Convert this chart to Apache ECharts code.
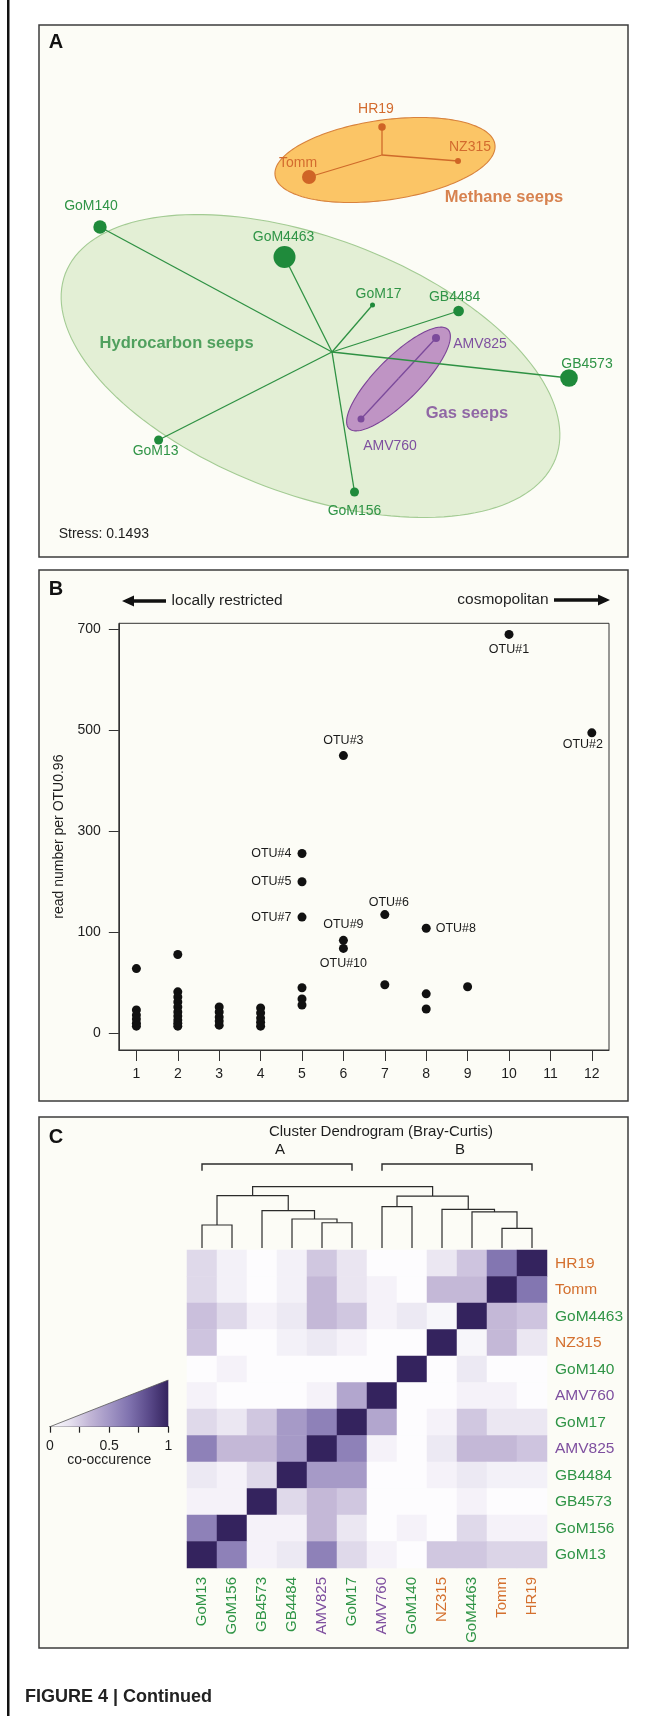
<!DOCTYPE html>
<html>
<head>
<meta charset="utf-8">
<title>Figure 4</title>
<script src="https://cdn.jsdelivr.net/npm/echarts@6.0.0/dist/echarts.min.js"></script>
<style>
html,body{margin:0;padding:0;background:#ffffff;}
#chart{width:659px;height:1716px;}
</style>
</head>
<body>
<div id="chart"></div>
<script>
// ======================= DATA =======================
// ---- Panel A : NMDS ordination of seep sites ----
const siteNames     = ['HR19','NZ315','Tomm','GoM140','GoM4463','GoM17','GB4484','AMV825','GB4573','AMV760','GoM13','GoM156'];
const siteGroup     = ['methane','methane','methane','hydro','hydro','hydro','hydro','gas','hydro','gas','hydro','hydro'];
const nmds1         = [0.25, 0.63, -0.115, -1.16, -0.2375, 0.2025, 0.633, 0.52, 1.185, 0.145, -0.867, 0.1125];
const nmds2         = [1.125, 0.955, 0.875, 0.625, 0.475, 0.235, 0.205, 0.07, -0.13, -0.335, -0.44, -0.7];
const siteAbundance = [56, 36, 196, 180, 484, 25, 115, 64, 310, 49, 81, 81];
const groupNames    = ['hydro','methane','gas'];
const groupTitles   = ['Hydrocarbon seeps','Methane seeps','Gas seeps'];
const groupCentroid1 = [0, 0.25, 0.3325];
const groupCentroid2 = [0, 0.985, -0.1325];
const ellipseCenter1 = [-0.1075, 0.265, 0.3325];
const ellipseCenter2 = [-0.07, 0.96, -0.135];
const ellipseSemiMajor = [1.31, 0.555, 0.35];
const ellipseSemiMinor = [0.642, 0.2, 0.11];
const ellipseAngleDeg  = [-20.6, 8, 45];
const groupTitle1 = [-0.777, 0.86, 0.675];
const groupTitle2 = [0.045, 0.775, -0.305];
const stressValue = '0.1493';

// ---- Panel B : occurrence vs read number ----
const otuNames  = ['OTU#1','OTU#2','OTU#3','OTU#4','OTU#5','OTU#6','OTU#7','OTU#8','OTU#9','OTU#10'];
const otuSites  = [10, 12, 6, 5, 5, 7, 5, 8, 6, 6];
const otuReads  = [690, 495, 450, 256, 200, 135, 130, 108, 92, 84];
const otherSites = [1,1,1,1,1,1, 2,2,2,2,2,2,2,2,2,2, 3,3,3,3,3, 4,4,4,4,4, 5,5,5, 7, 8,8, 9];
const otherReads = [64,23,18,14,10,7, 78,41,36,31,26,21,17,13,10,7, 26,21,16,12,8, 25,20,15,11,7, 45,34,28, 48, 39,24, 46];
const xTicks = [1,2,3,4,5,6,7,8,9,10,11,12];
const yTicks = [0, 100, 300, 500, 700];

// ---- Panel C : co-occurrence heatmap + dendrogram ----
const heatLabels = ['GoM13','GoM156','GB4573','GB4484','AMV825','GoM17','AMV760','GoM140','NZ315','GoM4463','Tomm','HR19'];
const heatGroup  = ['hydro','hydro','hydro','hydro','gas','hydro','gas','hydro','methane','hydro','methane','methane'];
// rows from top (HR19) to bottom (GoM13); columns in heatLabels order
const coOccurrence = [
  [0.20,0.07,0.00,0.07,0.27,0.14,0.00,0.00,0.13,0.28,0.65,1.00], // HR19
  [0.20,0.07,0.00,0.07,0.33,0.14,0.06,0.00,0.33,0.33,1.00,0.65], // Tomm
  [0.30,0.20,0.06,0.12,0.33,0.27,0.06,0.12,0.04,1.00,0.33,0.28], // GoM4463
  [0.28,0.00,0.00,0.07,0.12,0.06,0.00,0.00,1.00,0.04,0.33,0.13], // NZ315
  [0.00,0.06,0.00,0.00,0.00,0.00,0.00,1.00,0.00,0.12,0.00,0.00], // GoM140
  [0.06,0.00,0.00,0.00,0.06,0.42,1.00,0.00,0.00,0.06,0.06,0.00], // AMV760
  [0.20,0.13,0.27,0.48,0.60,1.00,0.42,0.00,0.06,0.27,0.13,0.13], // GoM17
  [0.60,0.33,0.33,0.48,1.00,0.60,0.06,0.00,0.12,0.33,0.33,0.28], // AMV825
  [0.12,0.06,0.20,1.00,0.48,0.48,0.00,0.00,0.06,0.12,0.07,0.07], // GB4484
  [0.06,0.06,1.00,0.20,0.33,0.27,0.00,0.00,0.00,0.06,0.00,0.00], // GB4573
  [0.60,1.00,0.06,0.06,0.33,0.13,0.00,0.06,0.00,0.20,0.06,0.06], // GoM156
  [1.00,0.60,0.06,0.12,0.60,0.20,0.06,0.00,0.27,0.27,0.22,0.22]  // GoM13
];
// hierarchical clustering merges (Bray-Curtis)
const mergeLeft   = ['GoM13','AMV825','GB4484','GB4573','m0','AMV760','Tomm','GoM4463','NZ315','m5','m4'];
const mergeRight  = ['GoM156','GoM17','m1','m2','m3','GoM140','HR19','m6','m7','m8','m9'];
const mergeHeight = [0.338, 0.371, 0.426, 0.548, 0.768, 0.606, 0.289, 0.529, 0.568, 0.763, 0.90];
const clusterNames = ['A','B'];
const clusterFirstLeaf = ['GoM13','AMV760'];
const clusterLastLeaf  = ['GoM17','HR19'];
const legendTicks = [0, 0.25, 0.5, 0.75, 1];
const legendTickLabels = ['0','','0.5','','1'];

// ======================= STYLE =======================
const FONT = '"Liberation Sans", Arial, Helvetica, sans-serif';
const groupStyle = {
  hydro:   {point:'#1f8a3b', text:'#2f9446', title:'#2a8c40', fill:'#e3efd5', stroke:'#a3cb93', spoke:'#2e9143'},
  methane: {point:'#cf6426', text:'#d36b2e', title:'#cd6326', fill:'#fbc566', stroke:'#d8823c', spoke:'#cf6a2a'},
  gas:     {point:'#7b4a9b', text:'#7e4f9f', title:'#7a4598', fill:'#bf94c4', stroke:'#7b4297', spoke:'#7b4a9b'}
};
const siteLabelOffset = {
  HR19:[-6,-18], NZ315:[12,-14], Tomm:[-11,-14], GoM140:[-9,-21], GoM4463:[-1,-20],
  GoM17:[6,-11], GB4484:[-4,-14], AMV825:[44,6], GB4573:[18,-14], AMV760:[29,27],
  GoM13:[-3,11], GoM156:[0,19]
};
const otuLabelLayout = {
  'OTU#1':{position:'bottom', distance:4},
  'OTU#2':{position:'bottom', distance:1, offset:[-9,0]},
  'OTU#3':{position:'top', distance:4},
  'OTU#4':{position:'left', distance:6},
  'OTU#5':{position:'left', distance:6},
  'OTU#6':{position:'top', distance:1, offset:[4,0]},
  'OTU#7':{position:'left', distance:6},
  'OTU#8':{position:'right', distance:5},
  'OTU#9':{position:'top', distance:5},
  'OTU#10':{position:'bottom', distance:4}
};
const heatColors = ['#fdfcfe','#e6e1ef','#c3b7d7','#a296c5','#8073af','#5b4b8b','#34235e'];
const labelColor = {hydro:'#2f9446', methane:'#d4702f', gas:'#7e4f9f'};

function tY(v){ return v <= 100 ? v/100 : 1 + (v-100)/200; }

// dendrogram node positions derived from merges
const nodeX = {}, nodeH = {};
heatLabels.forEach((n,i)=>{ nodeX[n]=i; nodeH[n]=0; });
mergeLeft.forEach((a,i)=>{
  const b = mergeRight[i];
  nodeX['m'+i] = (nodeX[a]+nodeX[b])/2;
  nodeH['m'+i] = mergeHeight[i];
});

// heatmap cells
const heatData = [];
coOccurrence.forEach((row,r)=>{
  row.forEach((v,c)=>{ heatData.push([c, heatLabels.length-1-r, v]); });
});

// ======================= CHART =======================
const chart = echarts.init(document.getElementById('chart'), null, {renderer:'canvas'});

const series = [];
series.push({
  type:'custom', xAxisIndex:0, yAxisIndex:0, z:2, silent:true,
  data: groupNames.map((g,i)=>[ellipseCenter1[i], ellipseCenter2[i], i]),
  renderItem:function(params, api){
    const i = api.value(2);
    const ang = ellipseAngleDeg[i]*Math.PI/180;
    const pts = [];
    for(let k=0;k<160;k++){
      const t = k/160*2*Math.PI;
      const ex = ellipseSemiMajor[i]*Math.cos(t), ey = ellipseSemiMinor[i]*Math.sin(t);
      pts.push(api.coord([ellipseCenter1[i] + ex*Math.cos(ang) - ey*Math.sin(ang),
                          ellipseCenter2[i] + ex*Math.sin(ang) + ey*Math.cos(ang)]));
    }
    const st = groupStyle[groupNames[i]];
    return {type:'polygon', shape:{points:pts}, style:{fill:st.fill, stroke:st.stroke, lineWidth:1.1}};
  }
});
series.push({
  type:'custom', xAxisIndex:0, yAxisIndex:0, z:3, silent:true,
  data: siteNames.map((n,i)=>[nmds1[i], nmds2[i], i]),
  renderItem:function(params, api){
    const i = api.value(2);
    const g = groupNames.indexOf(siteGroup[i]);
    const p0 = api.coord([groupCentroid1[g], groupCentroid2[g]]);
    const p1 = api.coord([nmds1[i], nmds2[i]]);
    return {type:'line', shape:{x1:p0[0],y1:p0[1],x2:p1[0],y2:p1[1]},
            style:{stroke:groupStyle[siteGroup[i]].spoke, lineWidth:1.3}};
  }
});
series.push({
  type:'scatter', xAxisIndex:0, yAxisIndex:0, z:4, silent:true,
  symbolSize:function(v){ return Math.sqrt(v[2]); },
  data: siteNames.map((n,i)=>({
    name:n, value:[nmds1[i], nmds2[i], siteAbundance[i]],
    itemStyle:{color:groupStyle[siteGroup[i]].point, opacity:1},
    label:{show:true, position:'inside', offset:siteLabelOffset[n], formatter:'{b}',
           color:groupStyle[siteGroup[i]].text, fontSize:14, fontFamily:FONT}
  }))
});
series.push({
  type:'scatter', xAxisIndex:0, yAxisIndex:0, z:5, silent:true, symbolSize:0.1,
  itemStyle:{color:'rgba(0,0,0,0)'},
  data: groupNames.map((g,i)=>({
    name:groupTitles[i], value:[groupTitle1[i], groupTitle2[i]],
    label:{show:true, position:'inside', formatter:'{b}', color:groupStyle[g].title,
           fontSize:16.5, fontWeight:'bold', fontFamily:FONT}
  }))
});
series.push({
  type:'scatter', xAxisIndex:1, yAxisIndex:1, z:4, silent:true, symbolSize:9,
  itemStyle:{color:'#111111', opacity:1},
  data: otherSites.map((x,i)=>[x, tY(otherReads[i])])
});
series.push({
  type:'scatter', xAxisIndex:1, yAxisIndex:1, z:5, silent:true, symbolSize:9,
  itemStyle:{color:'#111111', opacity:1},
  data: otuNames.map((n,i)=>({
    name:n, value:[otuSites[i], tY(otuReads[i])],
    label:Object.assign({show:true, formatter:'{b}', color:'#1a1a1a', fontSize:12.5, fontFamily:FONT}, otuLabelLayout[n])
  }))
});
series.push({
  type:'custom', xAxisIndex:2, yAxisIndex:2, z:3, silent:true,
  data: mergeHeight.map((h,i)=>[nodeX['m'+i], h, i]),
  renderItem:function(params, api){
    const i = api.value(2);
    const a = mergeLeft[i], b = mergeRight[i], h = mergeHeight[i];
    const pts = [api.coord([nodeX[a], nodeH[a]]), api.coord([nodeX[a], h]),
                 api.coord([nodeX[b], h]), api.coord([nodeX[b], nodeH[b]])];
    return {type:'polyline', shape:{points:pts}, style:{stroke:'#2b2b2b', lineWidth:1.2, fill:null}};
  }
});
const BRACKET_H = 1.233, BRACKET_LEG = 1.135, BRACKET_LABEL = 1.44;
series.push({
  type:'custom', xAxisIndex:2, yAxisIndex:2, z:3, silent:true,
  data: clusterNames.map((c,i)=>[nodeX[clusterFirstLeaf[i]], BRACKET_H, i]),
  renderItem:function(params, api){
    const i = api.value(2);
    const x0 = nodeX[clusterFirstLeaf[i]], x1 = nodeX[clusterLastLeaf[i]];
    const pts = [api.coord([x0,BRACKET_LEG]), api.coord([x0,BRACKET_H]), api.coord([x1,BRACKET_H]), api.coord([x1,BRACKET_LEG])];
    const lp = api.coord([(x0+x1)/2 + 0.1, BRACKET_LABEL]);
    return {type:'group', children:[
      {type:'polyline', shape:{points:pts}, style:{stroke:'#2b2b2b', lineWidth:1.4, fill:null}},
      {type:'text', style:{text:clusterNames[i], x:lp[0], y:lp[1], textAlign:'center', textVerticalAlign:'middle',
        font:'15px '+FONT, fill:'#1a1a1a'}}
    ]};
  }
});
const HEAT_IDX = series.length;
series.push({
  type:'heatmap', xAxisIndex:3, yAxisIndex:3, silent:true, data:heatData,
  itemStyle:{borderWidth:0}, emphasis:{disabled:true}
});
series.push({
  type:'line', xAxisIndex:4, yAxisIndex:4, silent:true, symbol:'none',
  data: [[legendTicks[0],0],[legendTicks[legendTicks.length-1],1]],
  lineStyle:{color:'#555555', width:0.8},
  areaStyle:{opacity:1, color:new echarts.graphic.LinearGradient(0,0,1,0,
    heatColors.map((c,i)=>({offset:i/(heatColors.length-1), color:c})))}
});

const axisTxt = {color:'#1e1e1e', fontFamily:FONT};
const option = {
  animation:false,
  backgroundColor:'#ffffff',
  textStyle:{fontFamily:FONT},
  grid:[
    {left:52, top:52, width:570, height:500, outerBoundsMode:'none'},
    {left:118.8, top:623.3, width:490.2, height:426.7, show:true, z:1, borderColor:'#333333', borderWidth:1,
     backgroundColor:'rgba(0,0,0,0)', outerBoundsMode:'none'},
    {left:187, top:1128.8, width:360, height:119.2, outerBoundsMode:'none'},
    {left:187, top:1250, width:360, height:318, outerBoundsMode:'none'},
    {left:50, top:1380, width:118.3, height:46.7, outerBoundsMode:'none'}
  ],
  xAxis:[
    {type:'value', gridIndex:0, min:-1.4, max:1.45, show:false},
    {type:'value', gridIndex:1, min:0.575, max:12.415, z:3,
     axisLine:{show:true, onZero:false, lineStyle:{color:'#333333', width:1}},
     axisTick:{show:true, customValues:xTicks, length:11, lineStyle:{color:'#333333', width:1}},
     axisLabel:Object.assign({show:true, customValues:xTicks, fontSize:14, margin:17}, axisTxt),
     splitLine:{show:false}},
    {type:'value', gridIndex:2, min:-0.5, max:11.5, show:false},
    {type:'category', gridIndex:3, data:heatLabels,
     axisLine:{show:false}, axisTick:{show:false}, splitLine:{show:false},
     axisLabel:{show:true, interval:0, rotate:90, fontSize:15, margin:9, fontFamily:FONT,
       color:function(v,i){ return labelColor[heatGroup[heatLabels.indexOf(v)]]; }}},
    {type:'value', gridIndex:4, min:0, max:1, interval:0.25,
     axisLine:{show:true, onZero:false, lineStyle:{color:'#222222', width:1.2}},
     axisTick:{show:true, length:6, lineStyle:{color:'#222222', width:1.2}},
     axisLabel:Object.assign({show:true, fontSize:14, margin:12,
       formatter:function(v){ const k = legendTicks.indexOf(v); return k>=0 ? legendTickLabels[k] : ''; }}, axisTxt),
     splitLine:{show:false},
     name:'co-occurence', nameLocation:'middle', nameGap:26,
     nameTextStyle:{fontSize:14, color:'#1e1e1e', fontFamily:FONT}}
  ],
  yAxis:[
    {type:'value', gridIndex:0, min:-1.0, max:1.5, show:false},
    {type:'value', gridIndex:1, min:-0.166, max:4.06, z:3,
     axisLine:{show:true, onZero:false, lineStyle:{color:'#333333', width:1}},
     axisTick:{show:true, customValues:yTicks.map(tY), length:10, lineStyle:{color:'#333333', width:1}},
     axisLabel:Object.assign({show:true, customValues:yTicks.map(tY), fontSize:14, margin:18,
       formatter:function(v){ const k = yTicks.findIndex(t=>Math.abs(tY(t)-v)<1e-6); return k>=0 ? String(yTicks[k]) : ''; }}, axisTxt),
     splitLine:{show:false},
     name:'read number per OTU0.96', nameLocation:'middle', nameGap:53, nameRotate:90,
     nameTextStyle:{fontSize:14, color:'#1e1e1e', fontFamily:FONT}},
    {type:'value', gridIndex:2, min:0, max:1.75, show:false},
    {type:'category', gridIndex:3, data:heatLabels, position:'right',
     axisLine:{show:false}, axisTick:{show:false}, splitLine:{show:false},
     axisLabel:{show:true, interval:0, fontSize:15.5, margin:8, fontFamily:FONT,
       color:function(v,i){ return labelColor[heatGroup[heatLabels.indexOf(v)]]; }}},
    {type:'value', gridIndex:4, min:0, max:1, show:false}
  ],
  visualMap:{type:'continuous', show:false, min:0, max:1, dimension:2, seriesIndex:HEAT_IDX,
             inRange:{color:heatColors}},
  series:series,
  graphic:{elements:[
    {type:'rect', z:-5, silent:true, shape:{x:39,y:25,width:589,height:532}, style:{fill:'#fcfcf6', stroke:'#3c3c3c', lineWidth:1.5}},
    {type:'rect', z:-5, silent:true, shape:{x:39,y:570,width:589,height:531}, style:{fill:'#fcfcf6', stroke:'#3c3c3c', lineWidth:1.5}},
    {type:'rect', z:-5, silent:true, shape:{x:39,y:1117,width:589,height:531}, style:{fill:'#fcfcf6', stroke:'#3c3c3c', lineWidth:1.5}},
    {type:'rect', z:-5, silent:true, shape:{x:7,y:0,width:2.5,height:1716}, style:{fill:'#111111'}},
    {type:'text', z:10, silent:true, style:{text:'A', x:56, y:42, textAlign:'center', textVerticalAlign:'middle', font:'bold 20px '+FONT, fill:'#111'}},
    {type:'text', z:10, silent:true, style:{text:'B', x:56, y:589, textAlign:'center', textVerticalAlign:'middle', font:'bold 20px '+FONT, fill:'#111'}},
    {type:'text', z:10, silent:true, style:{text:'C', x:56, y:1137, textAlign:'center', textVerticalAlign:'middle', font:'bold 20px '+FONT, fill:'#111'}},
    {type:'text', z:10, silent:true, style:{text:'Stress: '+stressValue, x:58.7, y:534, textAlign:'left', textVerticalAlign:'middle', font:'14px '+FONT, fill:'#1e1e1e'}},
    {type:'polygon', z:10, silent:true, shape:{points:[[122,601],[134,595.5],[134,599.2],[166,599.2],[166,602.8],[134,602.8],[134,606.5]]}, style:{fill:'#111'}},
    {type:'text', z:10, silent:true, style:{text:'locally restricted', x:171.6, y:601, textAlign:'left', textVerticalAlign:'middle', font:'15.5px '+FONT, fill:'#1e1e1e'}},
    {type:'polygon', z:10, silent:true, shape:{points:[[610,600],[598,594.5],[598,598.2],[554,598.2],[554,601.8],[598,601.8],[598,605.5]]}, style:{fill:'#111'}},
    {type:'text', z:10, silent:true, style:{text:'cosmopolitan', x:548.6, y:600, textAlign:'right', textVerticalAlign:'middle', font:'15.5px '+FONT, fill:'#1e1e1e'}},
    {type:'text', z:10, silent:true, style:{text:'Cluster Dendrogram (Bray-Curtis)', x:381, y:1131.7, textAlign:'center', textVerticalAlign:'middle', font:'15px '+FONT, fill:'#1e1e1e'}},
    {type:'text', z:10, silent:true, style:{text:'FIGURE 4 | Continued', x:25, y:1697, textAlign:'left', textVerticalAlign:'middle', font:'bold 18px '+FONT, fill:'#222'}}
  ]}
};
chart.setOption(option);
</script>
</body>
</html>
